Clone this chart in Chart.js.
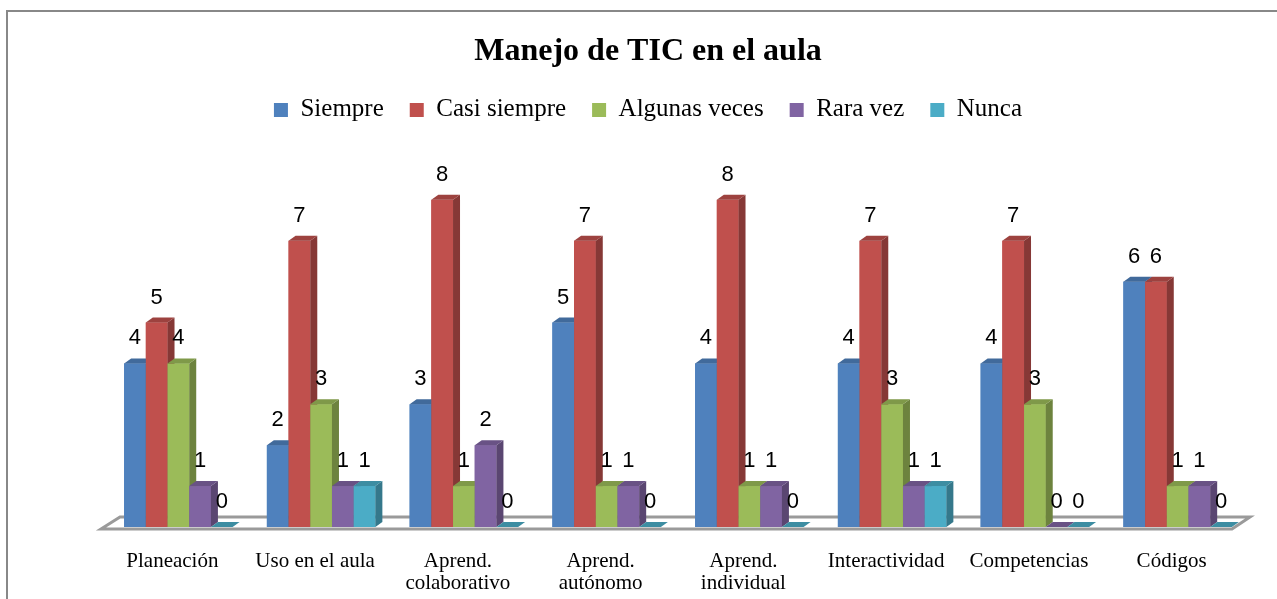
<!DOCTYPE html>
<html>
<head>
<meta charset="utf-8">
<script src="https://cdn.jsdelivr.net/npm/chart.js@4/dist/chart.umd.min.js"></script>
<style>
body{margin:0;background:#fff;}
#frame{position:absolute;left:6px;top:10px;width:1320px;height:640px;border-top:2px solid #888;border-left:2px solid #888;}
#chart{position:absolute;left:0;top:0;}
</style>
</head>
<body>
<div id="frame"></div>
<canvas id="chart" width="1277" height="599"></canvas>
<script>
// ---- data ----
const categories = [
    "Planeación",
    "Uso en el aula",
    ["Aprend.", "colaborativo"],
    ["Aprend.", "autónomo"],
    ["Aprend.", "individual"],
    "Interactividad",
    "Competencias",
    "Códigos"
];
const seriesNames = ["Siempre", "Casi siempre", "Algunas veces", "Rara vez", "Nunca"];
const siempre      = [4, 2, 3, 5, 4, 4, 4, 6];
const casiSiempre  = [5, 7, 8, 7, 8, 7, 7, 6];
const algunasVeces = [4, 3, 1, 1, 1, 3, 3, 1];
const raraVez      = [1, 1, 2, 1, 1, 1, 0, 1];
const nunca        = [0, 1, 0, 0, 0, 1, 0, 0];

const colors = ["#4F81BD", "#C0504D", "#9BBB59", "#8064A2", "#4BACC6"];
const values = [siempre, casiSiempre, algunasVeces, raraVez, nunca];

function shade(hex, f){
    const n = parseInt(hex.slice(1), 16);
    const r = Math.round(((n >> 16) & 255) * f);
    const g = Math.round(((n >> 8) & 255) * f);
    const b = Math.round((n & 255) * f);
    return "rgb(" + r + "," + g + "," + b + ")";
}

// fake 3D: floor, top + side faces, value labels
const DX = 7, DY = 5;
const bars3d = {
    id: "bars3d",
    beforeDatasetsDraw(chart){
        const ctx = chart.ctx;
        const a = chart.chartArea;
        const b = chart.scales.y.getPixelForValue(0);
        const L = a.left - 6, R = a.right - 6;
        ctx.save();
        ctx.beginPath();
        ctx.moveTo(L, b + 2);
        ctx.lineTo(L + 19, b - 10);
        ctx.lineTo(R + 7, b - 10);
        ctx.lineTo(R - 11, b + 2);
        ctx.closePath();
        ctx.fillStyle = "#fff";
        ctx.fill();
        ctx.lineWidth = 3;
        ctx.strokeStyle = "#9a9a9a";
        ctx.stroke();
        ctx.restore();
    },
    afterDatasetsDraw(chart){
        const ctx = chart.ctx;
        ctx.save();
        chart.data.datasets.forEach((ds, i) => {
            const meta = chart.getDatasetMeta(i);
            meta.data.forEach(bar => {
                const p = bar.getProps(["x", "y", "base", "width"], true);
                const l = p.x - p.width / 2, r = p.x + p.width / 2;
                // front
                ctx.fillStyle = ds.backgroundColor;
                ctx.fillRect(l, p.y, p.width, p.base - p.y);
                // side
                ctx.fillStyle = shade(ds.backgroundColor, 0.7);
                ctx.beginPath();
                ctx.moveTo(r, p.y);
                ctx.lineTo(r + DX, p.y - DY);
                ctx.lineTo(r + DX, p.base - DY);
                ctx.lineTo(r, p.base);
                ctx.closePath();
                ctx.fill();
                // top
                ctx.fillStyle = shade(ds.backgroundColor, 0.82);
                ctx.beginPath();
                ctx.moveTo(l, p.y);
                ctx.lineTo(l + DX, p.y - DY);
                ctx.lineTo(r + DX, p.y - DY);
                ctx.lineTo(r, p.y);
                ctx.closePath();
                ctx.fill();
            });
        });
        ctx.fillStyle = "#000";
        ctx.font = "22px 'Liberation Sans'";
        ctx.textAlign = "center";
        ctx.textBaseline = "middle";
        chart.data.datasets.forEach((ds, i) => {
            chart.getDatasetMeta(i).data.forEach((bar, j) => {
                ctx.fillText(String(ds.data[j]), bar.x, bar.y - 25);
            });
        });
        ctx.restore();
    }
};

const hiddenAxis = {
    display: true,
    grid: {display: false},
    border: {display: false},
    ticks: {display: false}
};

new Chart(document.getElementById("chart"), {
    type: "bar",
    data: {
        labels: categories,
        datasets: seriesNames.map((name, i) => ({
            label: name,
            data: values[i],
            backgroundColor: colors[i],
            borderWidth: 0
        }))
    },
    options: {
        responsive: false,
        devicePixelRatio: 1,
        animation: false,
        layout: {padding: {top: 10, left: 19, right: 0, bottom: 0}},
        datasets: {bar: {barPercentage: 1, categoryPercentage: 0.76}},
        plugins: {
            title: {
                display: true,
                text: "Manejo de TIC en el aula",
                color: "#000",
                font: {family: "'Liberation Serif'", size: 32, weight: "bold"},
                padding: {top: 23, bottom: 0}
            },
            legend: {
                labels: {
                    color: "#000",
                    boxWidth: 14,
                    boxHeight: 14,
                    padding: 26,
                    font: {family: "'Liberation Serif'", size: 25}
                }
            },
            tooltip: {enabled: false}
        },
        scales: {
            x: {
                grid: {display: false},
                border: {display: false},
                ticks: {
                    color: "#000",
                    padding: 15,
                    labelOffset: -6,
                    maxRotation: 0,
                    autoSkip: false,
                    font: {family: "'Liberation Serif'", size: 21, lineHeight: 1.05}
                },
                afterFit(s){ s.height = 72; }
            },
            y: Object.assign({}, hiddenAxis, {
                min: 0,
                max: 9.65,
                afterFit(s){ s.width = 88; }
            }),
            y2: Object.assign({}, hiddenAxis, {
                position: "right",
                afterFit(s){ s.width = 28; }
            })
        }
    },
    plugins: [bars3d]
});
</script>
</body>
</html>
